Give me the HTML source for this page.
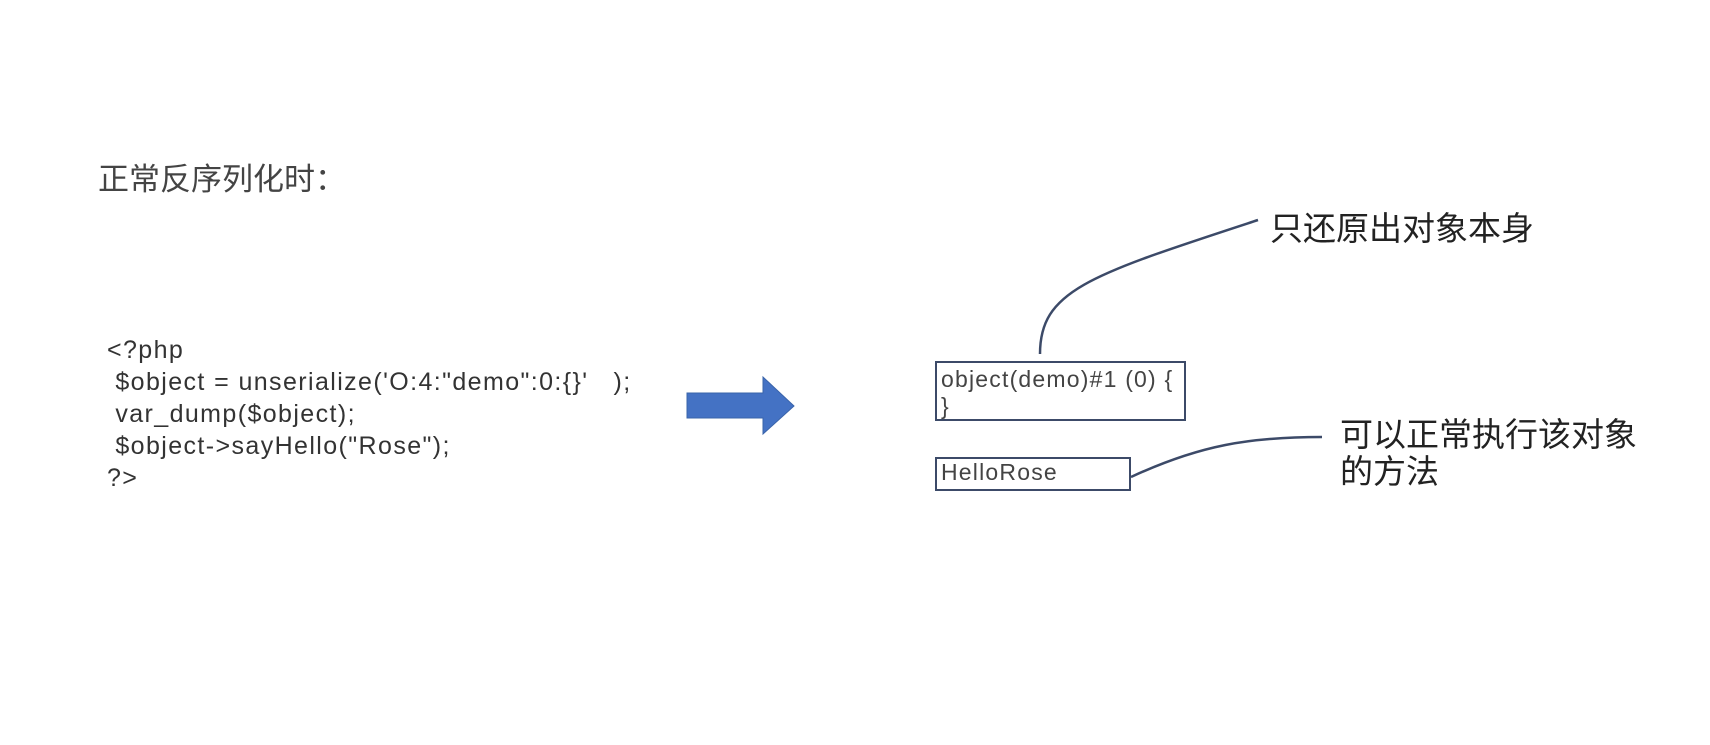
<!DOCTYPE html>
<html><head><meta charset="utf-8"><style>
body{margin:0;width:1710px;height:745px;background:#fff;position:relative;overflow:hidden;font-family:"Liberation Sans","Noto Sans CJK SC",sans-serif;color:#333}
.t{position:absolute;white-space:pre}
</style></head><body>
<div class="t" style="left:98px;top:154px;font-size:31px;color:#444">正常反序列化时：</div>
<div class="t" style="left:107px;top:334px;font-size:25px;line-height:32px;letter-spacing:1.4px;color:#333">&lt;?php
 $object = unserialize('O:4:"demo":0:{}'   );
 var_dump($object);
 $object-&gt;sayHello("Rose");
?&gt;</div>
<svg style="position:absolute;left:0;top:0" width="1710" height="745">
<polygon points="687,393 763,393 763,377 794,406 763,434 763,418 687,418" fill="#4472c4" stroke="#3a64aa" stroke-width="1"/>
<rect x="936" y="362" width="249" height="58" fill="none" stroke="#3c4a68" stroke-width="2"/>
<rect x="936" y="458" width="194" height="32" fill="none" stroke="#3c4a68" stroke-width="2"/>
<path d="M1040,354 C1040,290 1090,275 1258,220" fill="none" stroke="#3c4a68" stroke-width="2.5"/>
<path d="M1131,477 C1200,445 1250,437 1322,437" fill="none" stroke="#3c4a68" stroke-width="2.5"/>
</svg>
<div class="t" style="left:941px;top:366px;font-size:23px;line-height:27px;letter-spacing:1.2px;color:#444">object(demo)#1 (0) {
}</div>
<div class="t" style="left:941px;top:459px;font-size:23px;letter-spacing:1.2px;color:#444">HelloRose</div>
<div class="t" style="left:1270px;top:202px;font-size:33px;color:#222">只还原出对象本身</div>
<div class="t" style="left:1340px;top:416px;font-size:33px;line-height:37px;color:#222">可以正常执行该对象
的方法</div>
</body></html>
